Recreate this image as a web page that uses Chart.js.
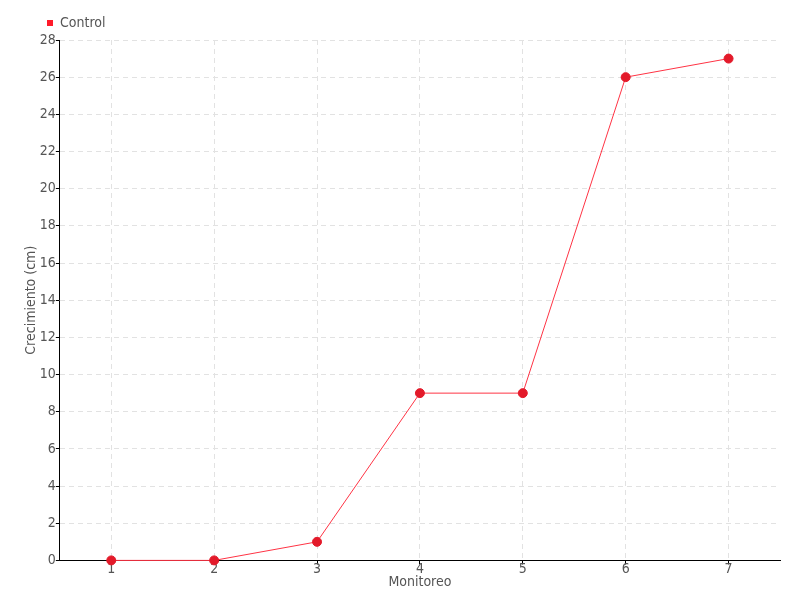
<!DOCTYPE html>
<html>
<head>
<meta charset="utf-8">
<script src="https://cdn.jsdelivr.net/npm/chart.js@4"></script>
<style>
  html, body { margin: 0; padding: 0; background: #fff; }
  #wrap { width: 800px; height: 600px; }
</style>
</head>
<body>
<div id="wrap"><canvas id="lineChart" width="800" height="600"></canvas></div>
<script>
// data
const monitoreo = ["1", "2", "3", "4", "5", "6", "7"];
const control = [0, 0, 1, 9, 9, 26, 27];

const fontFam = "'DejaVu Sans Condensed', 'Liberation Sans Narrow', sans-serif";
Chart.defaults.font.family = fontFam;
Chart.defaults.color = "#555";

// move the legend right so it sits over the y axis like the reference
const shiftLegend = {
    id: "shiftLegend",
    afterLayout(chart) {
        chart.legend.left += 20;
        chart.legend.right += 20;
    }
};

new Chart(document.getElementById("lineChart"), {
    type: "line",
    data: {
        labels: monitoreo,
        datasets: [{
            label: "Control",
            data: control,
            borderColor: "#ff3344",
            borderWidth: 1,
            backgroundColor: "#e31a2a",
            pointBackgroundColor: "#e31a2a",
            pointBorderColor: "#e31a2a",
            pointRadius: 4.5,
            pointBorderWidth: 1,
            fill: false,
            tension: 0,
            clip: false
        }]
    },
    options: {
        responsive: false,
        animation: false,
        layout: { padding: { top: 12, right: 20, bottom: 9, left: 23 } },
        plugins: {
            legend: {
                position: "top",
                align: "start",
                labels: {
                    boxWidth: 6,
                    boxHeight: 6,
                    padding: 4,
                    font: { size: 14 },
                    color: "#555",
                    generateLabels: () => [{
                        text: "Control",
                        fillStyle: "#ff1a2a",
                        strokeStyle: "#ff1a2a",
                        lineWidth: 0,
                        fontColor: "#555",
                        datasetIndex: 0
                    }]
                }
            },
            tooltip: { enabled: false }
        },
        scales: {
            x: {
                offset: true,
                grid: {
                    color: "#e2e2e2",
                    tickLength: 4,
                    tickColor: "#000",
                    offset: false
                },
                border: { display: true, color: "#000", width: 1, dash: [5, 4] },
                ticks: { font: { size: 14 }, color: "#555", padding: -3 },
                title: {
                    display: true,
                    text: "Monitoreo",
                    font: { size: 14 },
                    color: "#555",
                    padding: { top: -1, bottom: 0 }
                }
            },
            y: {
                min: 0,
                max: 28,
                ticks: { stepSize: 2, font: { size: 14 }, color: "#555", padding: 0 },
                grid: {
                    color: "#e2e2e2",
                    tickLength: 4,
                    tickColor: "#000"
                },
                border: { display: true, color: "#000", width: 1, dash: [5, 4] },
                title: {
                    display: true,
                    text: "Crecimiento (cm)",
                    font: { size: 14 },
                    color: "#555",
                    padding: { top: 0, bottom: 0 }
                }
            }
        }
    },
    plugins: [shiftLegend]
});
</script>
</body>
</html>
